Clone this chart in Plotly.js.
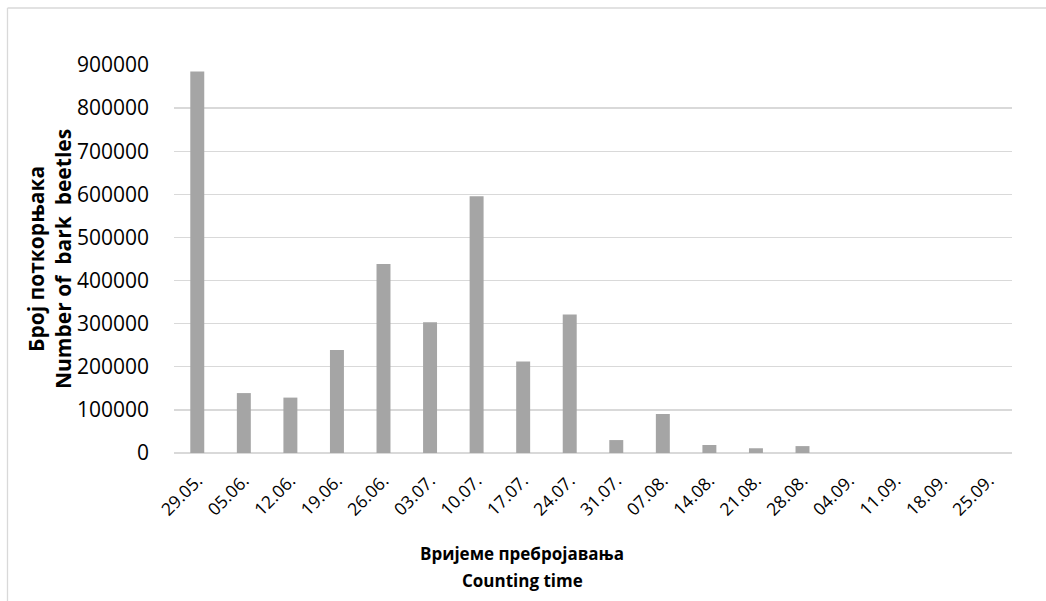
<!DOCTYPE html>
<html>
<head>
<meta charset="utf-8">
<script src="https://cdn.plot.ly/plotly-3.0.1.min.js"></script>
<style>html,body{margin:0;padding:0;background:#fff;}#chart{width:1046px;height:601px;}</style>
</head>
<body>
<div id="chart"></div>
<script>
const categories = ["29.05.","05.06.","12.06.","19.06.","26.06.","03.07.","10.07.","17.07.","24.07.","31.07.","07.08.","14.08.","21.08.","28.08.","04.09.","11.09.","18.09.","25.09."];
const beetles = [885000,139000,128500,239000,438500,303000,595500,212500,321500,30000,90500,18500,11000,16000,0,0,0,0];
const yTicks = [0,100000,200000,300000,400000,500000,600000,700000,800000,900000];
const xTitleLines = ["Вријеме пребројавања", "Counting time"];
const yTitle = "Број поткорњака<br>Number of  bark  beetles";

const font = "Open Sans, Liberation Sans, sans-serif";
const L = 174, R = 1012, T = 65, B = 453;
const W = R - L, H = B - T;
const px = x => (x - L) / W;
const py = y => (B - y) / H;

const xTitleY = [553, 580];
const annotations = xTitleLines.map((t, i) => ({
  text: t, xref: "paper", yref: "paper", x: px(522), y: py(xTitleY[i]),
  xanchor: "center", yanchor: "middle", showarrow: false,
  font: {family: font, size: 17, color: "#000", weight: "bold"}
}));
annotations.push({
  text: yTitle, xref: "paper", yref: "paper", x: px(49), y: py(259),
  xanchor: "center", yanchor: "middle", showarrow: false, textangle: -90,
  font: {family: font, size: 21, color: "#000", weight: "bold"}
});

Plotly.newPlot("chart", [{
  type: "bar",
  x: categories,
  y: beetles,
  width: 0.3,
  marker: {color: "#a5a5a5"},
  hoverinfo: "x+y"
}], {
  width: 1046, height: 601,
  margin: {l: L, r: 1046 - R, t: T, b: 601 - B},
  paper_bgcolor: "#fff", plot_bgcolor: "#fff",
  showlegend: false,
  xaxis: {
    type: "category",
    tickangle: -45,
    tickfont: {family: font, size: 17.5, color: "#000"},
    showgrid: false, zeroline: false,
    showline: false, ticks: "", ticklabelstandoff: 13
  },
  yaxis: {
    range: [0, 900000],
    tickvals: yTicks,
    ticktext: yTicks.map(String),
    tickfont: {family: font, size: 21, color: "#000"},
    showgrid: true, gridcolor: "#d9d9d9", gridwidth: 1.3,
    zeroline: true, zerolinecolor: "#d9d9d9", zerolinewidth: 1.3,
    ticks: "", ticklen: 0, ticklabelstandoff: 24,
    showline: false
  },
  annotations: annotations,
  shapes: [
    {type: "line", xref: "paper", yref: "paper", x0: px(7.5), x1: px(7.5), y0: py(8), y1: py(640),
     line: {color: "#d9d9d9", width: 1.3}},
    {type: "line", xref: "paper", yref: "paper", x0: px(7.5), x1: px(1060), y0: py(8), y1: py(8),
     line: {color: "#d9d9d9", width: 1.3}}
  ]
}, {displayModeBar: false, staticPlot: true});
</script>
</body>
</html>
